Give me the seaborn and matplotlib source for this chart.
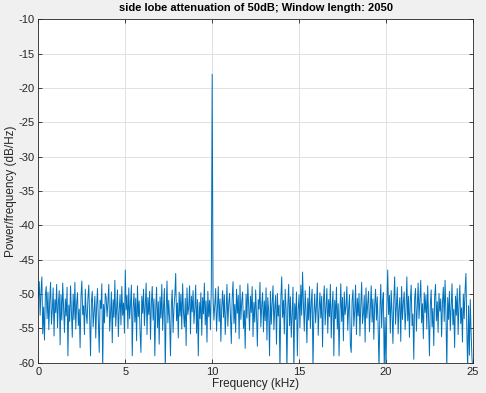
import matplotlib
import matplotlib.pyplot as plt
import numpy as np
import seaborn as sns

matplotlib.use("Agg")

# power spectral density estimate (dB/Hz), one value per bin
psd_db = [
    -50.5, -48.2, -53.1, -49.6, -47.5, -55.8, -51.9, -56.7, -50.2, -48.9, -53.6, -49.7, -55.2, -51.0, -48.3, -54.4, -52.3, -49.1, -56.1, -50.8,
    -52.7, -48.6, -54.9, -51.3, -49.5, -57.4, -50.1, -53.8, -48.4, -52.0, -55.6, -50.7, -53.2, -49.0, -59.0, -51.6, -54.0, -48.8, -52.5, -56.3,
    -50.0, -53.7, -48.3, -55.1, -51.4, -49.8, -54.6, -52.2, -57.8, -50.4, -48.1, -53.0, -51.7, -55.9, -49.3, -52.8, -54.3, -50.6, -48.7, -53.5,
    -59.0, -51.1, -49.6, -54.8, -52.6, -50.3, -56.4, -51.8, -49.2, -53.9, -58.5, -50.9, -52.1, -48.5, -61.0, -51.5, -54.2, -49.9, -50.5, -53.3,
    -51.2, -48.6, -55.4, -52.9, -49.7, -57.1, -50.8, -53.4, -48.0, -54.7, -51.9, -49.4, -56.2, -52.4, -50.1, -54.5, -48.9, -53.1, -51.3, -55.7,
    -46.5, -52.3, -50.2, -55.0, -49.1, -53.6, -51.5, -48.7, -59.0, -52.0, -49.9, -54.1, -50.6, -56.8, -48.8, -53.3, -51.0, -55.5, -58.5, -50.3,
    -52.8, -49.3, -54.6, -51.7, -48.4, -55.9, -50.5, -53.0, -49.6, -56.6, -51.4, -48.9, -53.8, -50.7, -59.0, -52.2, -49.0, -54.9, -51.1, -57.3,
    -50.4, -53.5, -48.6, -55.3, -51.8, -49.2, -61.0, -52.5, -48.1, -54.2, -50.9, -53.7, -59.0, -51.6, -49.4, -55.6, -52.0, -50.2, -47.0, -53.9,
    -51.3, -56.4, -49.7, -53.2, -50.0, -55.1, -48.5, -52.7, -54.8, -50.6, -57.5, -49.1, -53.0, -51.9, -48.8, -55.8, -50.3, -52.6, -49.5, -54.3,
    -52.1, -48.7, -55.7, -50.8, -59.0, -51.2, -53.6, -49.8, -56.0, -50.5, -52.9, -48.4, -54.5, -51.0, -57.0, -49.6, -53.3, -50.9, -55.2, -49.0,
    -18.0, -50.4, -53.8, -51.6, -49.2, -55.4, -52.3, -48.9, -54.0, -50.7, -56.9, -51.8, -49.5, -53.4, -50.1, -55.9, -52.6, -48.6, -54.7, -51.4,
    -49.9, -53.1, -57.2, -50.6, -48.2, -54.3, -51.5, -55.6, -49.3, -52.8, -50.2, -56.5, -48.7, -53.7, -51.1, -49.7, -55.0, -52.4, -57.9, -50.0,
    -53.5, -48.5, -51.9, -55.3, -50.3, -52.7, -48.9, -56.2, -51.2, -54.1, -49.4, -53.0, -57.6, -50.8, -52.2, -48.3, -54.8, -51.7, -49.8, -55.5,
    -51.0, -53.9, -49.1, -56.7, -50.5, -52.5, -59.0, -49.6, -54.4, -51.3, -48.8, -55.2, -52.0, -50.2, -57.3, -49.9, -53.2, -51.6, -61.0, -50.7,
    -47.5, -53.4, -50.9, -55.8, -49.3, -52.1, -61.0, -51.8, -48.6, -54.6, -50.4, -56.3, -52.9, -49.0, -61.0, -51.4, -53.7, -49.7, -59.0, -52.3,
    -50.1, -54.9, -48.7, -53.1, -46.8, -51.5, -55.4, -49.5, -52.6, -57.1, -50.6, -53.8, -48.9, -55.0, -51.2, -49.3, -61.0, -52.8, -50.0, -54.2,
    -51.7, -48.4, -56.0, -52.4, -49.8, -53.5, -50.3, -57.7, -51.1, -48.8, -54.5, -52.0, -49.2, -55.7, -50.8, -53.3, -48.6, -56.4, -51.9, -49.6,
    -59.0, -50.9, -53.6, -49.0, -55.1, -51.4, -59.0, -52.7, -48.5, -54.0, -50.5, -56.8, -49.7, -53.0, -51.8, -48.9, -55.3, -52.2, -50.1, -57.4,
    -58.5, -51.0, -49.4, -54.7, -52.5, -48.7, -55.9, -50.6, -53.2, -49.9, -56.1, -51.6, -48.3, -54.3, -52.8, -50.2, -57.0, -49.1, -53.5, -51.3,
    -49.6, -55.5, -52.1, -48.8, -54.1, -50.7, -56.6, -51.5, -49.3, -53.8, -50.4, -55.0, -61.0, -52.3, -48.6, -54.9, -51.1, -49.8, -61.0, -53.4,
    -61.0, -51.8, -46.5, -53.0, -50.2, -55.7, -49.5, -52.6, -57.2, -50.9, -47.5, -54.4, -51.7, -49.0, -55.8, -52.0, -50.5, -56.9, -48.9, -53.7,
    -51.2, -49.7, -55.2, -52.4, -47.5, -53.9, -50.3, -56.3, -51.0, -48.7, -54.6, -52.9, -59.5, -50.6, -49.2, -55.4, -51.9, -48.4, -53.6, -50.8,
    -48.0, -54.2, -51.4, -56.5, -49.8, -52.7, -50.1, -55.1, -48.8, -53.3, -59.0, -51.6, -49.4, -54.8, -52.1, -57.5, -50.4, -48.6, -53.9, -51.1,
    -55.6, -49.9, -52.5, -50.7, -56.2, -51.3, -49.0, -54.0, -48.0, -52.8, -61.0, -50.5, -53.7, -49.6, -55.3, -51.8, -48.5, -54.5, -52.2, -57.8,
    -50.3, -53.1, -49.2, -55.9, -51.5, -48.7, -54.3, -52.0, -57.0, -50.0, -53.6, -49.5, -47.0, -55.0, -61.0, -51.7, -58.9, -50.8, -55.8, -59.5,
    -61.0,
]
freq_khz = np.linspace(0, 25, len(psd_db))  # bin centres, 0 .. fs/2

x_ticks = [0, 5, 10, 15, 20, 25]
y_ticks = [-60, -55, -50, -45, -40, -35, -30, -25, -20, -15, -10]

sns.set_theme(style="whitegrid")
plt.rcParams["font.family"] = ["Liberation Sans", "DejaVu Sans"]
plt.rcParams["axes.unicode_minus"] = False

fig, ax = plt.subplots(figsize=(4.86, 3.93), dpi=100)
fig.patch.set_facecolor("#F0F0F0")
ax.set_facecolor("white")

sns.lineplot(x=freq_khz, y=psd_db, color="#0072BD", linewidth=0.7, ax=ax, sort=False)

ax.set_xlim(0, 25)
ax.set_ylim(-60, -10)
ax.set_xticks(x_ticks)
ax.set_yticks(y_ticks)
ax.grid(True, color="#DCDCDC", linewidth=0.6)

for side in ["top", "bottom", "left", "right"]:
    ax.spines[side].set_visible(True)
    ax.spines[side].set_color("#262626")
    ax.spines[side].set_linewidth(0.6)

ax.tick_params(direction="in", length=3, width=0.6, color="#262626",
               labelsize=8, labelcolor="#262626", top=True, right=True,
               bottom=True, left=True, pad=3)

ax.set_xlabel("Frequency (kHz)", fontsize=8.5, color="#262626", labelpad=1)
ax.set_ylabel("Power/frequency (dB/Hz)", fontsize=8.5, color="#262626", labelpad=1)
ax.set_title("side lobe attenuation of 50dB; Window length: 2050",
             fontsize=8, fontweight="bold", color="black", pad=6)

fig.subplots_adjust(left=0.079, right=0.973, top=0.951, bottom=0.077)
fig.savefig("out.png", dpi=100, facecolor=fig.get_facecolor())
